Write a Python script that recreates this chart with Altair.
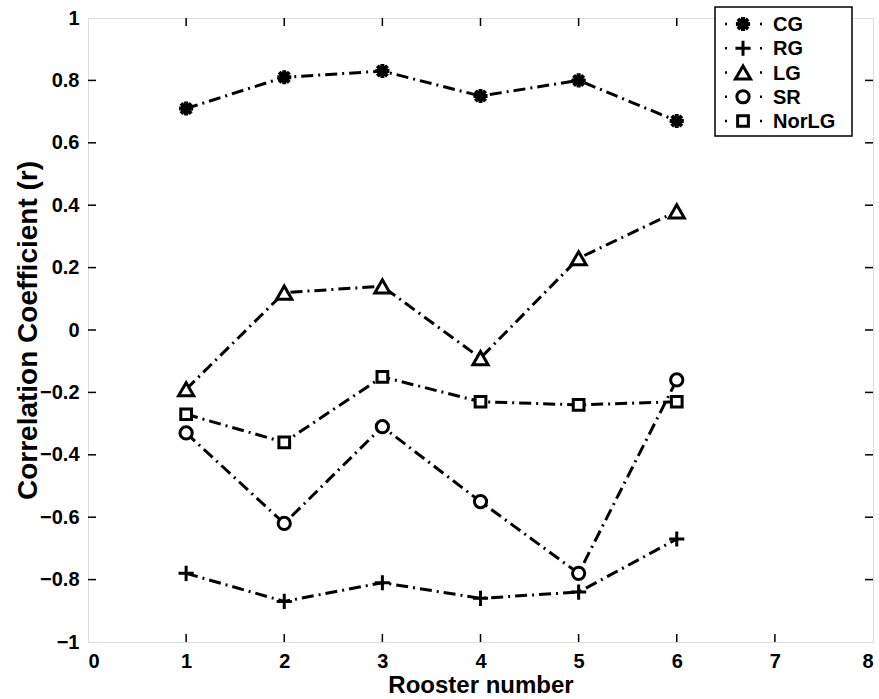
import altair as alt
import pandas as pd

rooster = [1, 2, 3, 4, 5, 6]
series_names = ["CG", "RG", "LG", "SR", "NorLG"]
CG = [0.71, 0.81, 0.83, 0.75, 0.80, 0.67]
RG = [-0.78, -0.87, -0.81, -0.86, -0.84, -0.67]
LG = [-0.19, 0.12, 0.14, -0.09, 0.23, 0.38]
SR = [-0.33, -0.62, -0.31, -0.55, -0.78, -0.16]
NorLG = [-0.27, -0.36, -0.15, -0.23, -0.24, -0.23]
x_ticks = [1, 2, 3, 4, 5, 6, 7]
y_ticks = [-0.8, -0.6, -0.4, -0.2, 0, 0.2, 0.4, 0.6, 0.8]

values = {"CG": CG, "RG": RG, "LG": LG, "SR": SR, "NorLG": NorLG}
rows = []
for s in series_names:
    for x, v in zip(rooster, values[s]):
        rows.append({"series": s, "rooster": x, "r": v})
df = pd.DataFrame(rows)

W, H = 785, 624
FONT = "Liberation Sans"

xs = alt.Scale(domain=[0, 8], nice=False, zero=False)
ys = alt.Scale(domain=[-1, 1], nice=False, zero=False)

ASTER = "M-1,0L1,0M0,-1L0,1M-0.72,-0.72L0.72,0.72M-0.72,0.72L0.72,-0.72"
PLUS = "M-1,0L1,0M0,-1L0,1"
markers = {
    "CG": dict(shape=ASTER, size=200, filled=False, strokeWidth=4),
    "RG": dict(shape=PLUS, size=230, filled=False, strokeWidth=3),
    "LG": dict(shape="triangle-up", size=230, filled=True, fill="white", stroke="black", strokeWidth=3),
    "SR": dict(shape="circle", size=150, filled=True, fill="white", stroke="black", strokeWidth=3),
    "NorLG": dict(shape="square", size=115, filled=True, fill="white", stroke="black", strokeWidth=3),
}

base = alt.Chart(df)

lines = base.mark_line(color="black", strokeWidth=3, strokeDash=[12, 5, 2, 5]).encode(
    x=alt.X("rooster:Q", scale=xs, axis=alt.Axis(
        title="Rooster number", values=list(range(0, 9)), format="d", grid=False,
        ticks=False, domain=False, labelFont=FONT, labelFontSize=20, labelFontWeight="bold",
        labelColor="black", labelPadding=9, titleFont=FONT, titleFontSize=24,
        titleFontWeight="bold", titleColor="black", titlePadding=2)),
    y=alt.Y("r:Q", scale=ys, axis=alt.Axis(
        title="Correlation Coefficient (r)", values=[-1] + y_ticks + [1], grid=False,
        ticks=False, domain=False, labelExpr="format(datum.value, '.1~f')",
        labelFont=FONT, labelFontSize=20, labelFontWeight="bold", labelColor="black",
        labelPadding=9, titleFont=FONT, titleFontSize=28, titleFontWeight="bold",
        titleColor="black", titlePadding=-3)),
    detail="series:N",
)

layers = [lines]
for s in series_names:
    kw = dict(markers[s])
    pts = alt.Chart(df[df.series == s]).mark_point(color="black", opacity=1, **kw).encode(
        x=alt.X("rooster:Q", scale=xs, axis=None),
        y=alt.Y("r:Q", scale=ys, axis=None),
    )
    layers.append(pts)

# inner ticks
xt = pd.DataFrame({"t": x_ticks})
yt = pd.DataFrame({"t": y_ticks})
tick_style = dict(color="black", strokeWidth=1.5)
layers.append(alt.Chart(xt).mark_rule(**tick_style).encode(
    x=alt.X("t:Q", scale=xs, axis=None), y=alt.value(H), y2=alt.value(H - 8)))
layers.append(alt.Chart(xt).mark_rule(**tick_style).encode(
    x=alt.X("t:Q", scale=xs, axis=None), y=alt.value(0), y2=alt.value(8)))
layers.append(alt.Chart(yt).mark_rule(**tick_style).encode(
    y=alt.Y("t:Q", scale=ys, axis=None), x=alt.value(0), x2=alt.value(8)))
layers.append(alt.Chart(yt).mark_rule(**tick_style).encode(
    y=alt.Y("t:Q", scale=ys, axis=None), x=alt.value(W), x2=alt.value(W - 8)))

# legend
leg = pd.DataFrame({"series": series_names, "idx": list(range(len(series_names)))})
legbase = alt.Chart(leg).transform_calculate(ly="6 + 24.25 * datum.idx")
layers.append(alt.Chart(pd.DataFrame({"a": [0]})).mark_rect(
    fill="white", stroke="black", strokeWidth=1.5).encode(
    x=alt.value(627), x2=alt.value(764), y=alt.value(-11), y2=alt.value(118)))
for s in series_names:
    kw = dict(markers[s])
    layers.append(legbase.transform_filter(alt.datum.series == s).mark_point(
        color="black", opacity=1, **kw).encode(
        x=alt.value(655), y=alt.Y("ly:Q", scale=None, axis=None)))
for x0 in [637, 672]:
    layers.append(legbase.mark_rule(color="black", strokeWidth=2.5).encode(
        x=alt.value(x0), x2=alt.value(x0 + 2), y=alt.Y("ly:Q", scale=None, axis=None)))
layers.append(legbase.mark_text(
    align="left", baseline="middle", font=FONT, fontSize=20, fontWeight="bold",
    color="black", dy=1).encode(
    x=alt.value(685), y=alt.Y("ly:Q", scale=None, axis=None), text="series:N"))

chart = alt.layer(*layers).resolve_scale(x="independent", y="independent").properties(
    width=W, height=H,
    autosize=alt.AutoSizeParams(type="none"),
    padding={"left": 88, "top": 18, "right": 6, "bottom": 57},
).configure_view(stroke="black", strokeWidth=1.5).configure(background="white")

chart.save("out.html", embed_options={"renderer": "svg", "actions": False})
